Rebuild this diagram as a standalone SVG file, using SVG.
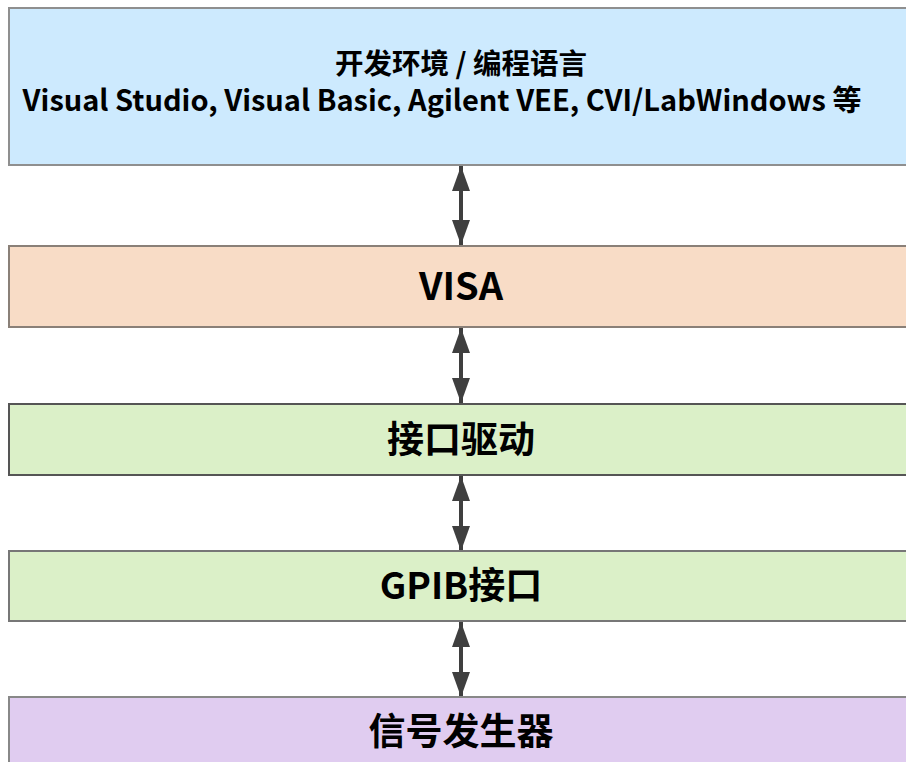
<svg xmlns="http://www.w3.org/2000/svg" width="906" height="762" viewBox="0 0 906 762">
<defs>
<style>
.box{stroke-width:2}
.t{font-family:"Noto Sans CJK SC","Noto Sans",sans-serif;font-weight:bold;fill:#000;text-anchor:middle}
.c{stroke:#3f3f3f;stroke-width:4;fill:none;marker-start:url(#ah);marker-end:url(#ah)}
</style>
<marker id="ah" viewBox="0 0 14 10" refX="14" refY="5" markerWidth="6.25" markerHeight="4.5" orient="auto-start-reverse" markerUnits="strokeWidth" preserveAspectRatio="none">
<path d="M0,0 L14,5 L0,10 z" fill="#3f3f3f"/>
</marker>
</defs>
<rect width="906" height="762" fill="#fff"/>
<g id="connectors">
<line class="c" x1="461" y1="166" x2="461" y2="245"/>
<line class="c" x1="461" y1="328" x2="461" y2="403"/>
<line class="c" x1="461" y1="476" x2="461" y2="551"/>
<line class="c" x1="461" y1="622" x2="461" y2="697"/>
</g>
<g id="node-env">
<rect class="box" x="9" y="8" width="904" height="157" fill="#cdeafe" stroke="#8f8f8f"/>
<text class="t" x="461" y="74" font-size="28.5">开发环境 / 编程语言</text>
<text class="t" x="442" y="111" font-size="29">Visual Studio, Visual Basic, Agilent VEE, CVI/LabWindows 等</text>
</g>
<g id="node-visa">
<rect class="box" x="9" y="246" width="904" height="81" fill="#f8dcc6" stroke="#8a8078"/>
<text class="t" x="461" y="300" font-size="38">VISA</text>
</g>
<g id="node-driver">
<rect class="box" x="9" y="404" width="904" height="71" fill="#dbf0c8" stroke="#555"/>
<text class="t" x="461" y="453" font-size="37">接口驱动</text>
</g>
<g id="node-gpib">
<rect class="box" x="9" y="551" width="904" height="70" fill="#dbf0c8" stroke="#777"/>
<text class="t" x="461" y="599" font-size="37">GPIB接口</text>
</g>
<g id="node-gen">
<rect class="box" x="9" y="697" width="904" height="80" fill="#e0ccf0" stroke="#888"/>
<text class="t" x="461" y="745" font-size="37">信号发生器</text>
</g>
</svg>
